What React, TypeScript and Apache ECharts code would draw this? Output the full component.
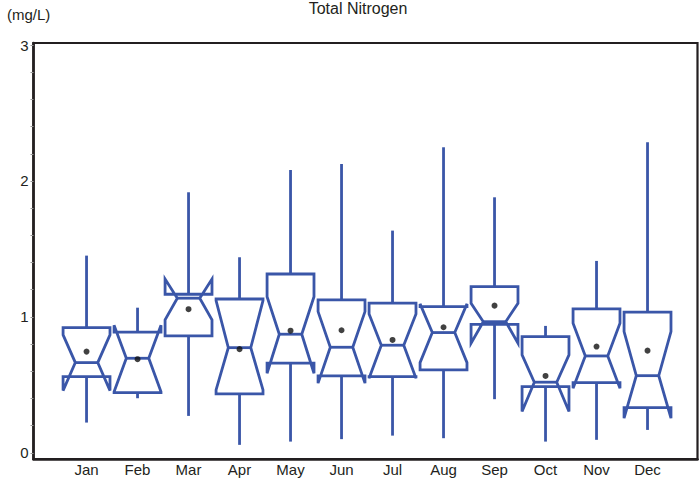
import React, { useEffect, useRef } from "react";
import * as echarts from "echarts";

const months = ["Jan", "Feb", "Mar", "Apr", "May", "Jun", "Jul", "Aug", "Sep", "Oct", "Nov", "Dec"];
const whiskerLow = [0.223, 0.402, 0.272, 0.059, 0.083, 0.101, 0.127, 0.108, 0.395, 0.083, 0.096, 0.169];
const q1 = [0.561, 0.443, 0.86, 0.434, 0.66, 0.566, 0.561, 0.61, 0.946, 0.488, 0.517, 0.333];
const notchLow = [0.458, 0.45, 0.978, 0.463, 0.586, 0.513, 0.549, 0.664, 0.807, 0.304, 0.476, 0.255];
const median = [0.664, 0.696, 1.138, 0.774, 0.873, 0.777, 0.792, 0.885, 0.965, 0.52, 0.713, 0.568];
const notchHigh = [0.868, 0.939, 1.279, 1.12, 1.149, 1.039, 1.022, 1.096, 1.101, 0.721, 0.954, 0.892];
const q3 = [0.921, 0.888, 1.167, 1.132, 1.316, 1.125, 1.101, 1.076, 1.223, 0.855, 1.059, 1.035];
const whiskerHigh = [1.451, 1.068, 1.917, 1.439, 2.081, 2.125, 1.635, 2.248, 1.88, 0.934, 1.412, 2.285];
const means = [0.745, 0.689, 1.057, 0.763, 0.899, 0.902, 0.831, 0.924, 1.083, 0.566, 0.782, 0.752];
const yTickLabels = [0, 1, 2, 3];
const yMinorTicks = [0, 0.2, 0.4, 0.6, 0.8, 1, 1.2, 1.4, 1.6, 1.8, 2, 2.2, 2.4, 2.6, 2.8, 3];

const BLUE = "#3a56a8";
const INK = "#231f20";
const FONT = "Liberation Sans, Arial, sans-serif";

export default function App() {
  const ref = useRef<HTMLDivElement>(null);
  useEffect(() => {
    const chart = echarts.init(ref.current!, null, { renderer: "svg" });
    const boxData = months.map((_, i) => [
      i + 1,
      whiskerLow[i],
      q1[i],
      notchLow[i],
      median[i],
      notchHigh[i],
      q3[i],
      whiskerHigh[i],
    ]);
    const meanData = means.map((v, i) => [i + 1, v]);

    const renderItem = (params: any, api: any) => {
      const x = api.value(0);
      const pt = (v: number) => api.coord([x, v]);
      const cx = pt(api.value(1))[0];
      const yMin = pt(api.value(1))[1];
      const yQ1 = pt(api.value(2))[1];
      const yNL = pt(api.value(3))[1];
      const yMed = pt(api.value(4))[1];
      const yNH = pt(api.value(5))[1];
      const yQ3 = pt(api.value(6))[1];
      const yMax = pt(api.value(7))[1];
      const hw = api.size([0.46, 0])[0];
      const nw = api.size([0.22, 0])[0];
      const style = { stroke: BLUE, lineWidth: 2.8, fill: "none", lineJoin: "miter" };
      return {
        type: "group",
        children: [
          {
            type: "line",
            shape: { x1: cx, y1: yQ3, x2: cx, y2: yMax },
            style: { stroke: BLUE, lineWidth: 2.8 },
          },
          {
            type: "line",
            shape: { x1: cx, y1: yQ1, x2: cx, y2: yMin },
            style: { stroke: BLUE, lineWidth: 2.8 },
          },
          {
            type: "polygon",
            shape: {
              points: [
                [cx - hw, yQ3],
                [cx - hw, yNH],
                [cx - nw, yMed],
                [cx - hw, yNL],
                [cx - hw, yQ1],
                [cx + hw, yQ1],
                [cx + hw, yNL],
                [cx + nw, yMed],
                [cx + hw, yNH],
                [cx + hw, yQ3],
              ],
            },
            style,
          },
          {
            type: "line",
            shape: { x1: cx - nw, y1: yMed, x2: cx + nw, y2: yMed },
            style: { stroke: BLUE, lineWidth: 2.8 },
          },
        ],
      };
    };

    chart.setOption({
      animation: false,
      backgroundColor: "#ffffff",
      textStyle: { fontFamily: FONT },
      title: {
        text: "Total Nitrogen",
        left: 358,
        top: 0,
        padding: 0,
        textAlign: "center",
        textStyle: { fontSize: 16, fontWeight: "normal", color: INK, fontFamily: FONT },
      },
      graphic: [
        {
          type: "text",
          left: 7,
          top: 7,
          style: { text: "(mg/L)", font: `15px ${FONT}`, fill: INK },
        },
      ],
      grid: {
        left: 33.5,
        top: 43,
        width: 664,
        height: 416,
        show: true,
        borderColor: INK,
        borderWidth: 2.2,
        backgroundColor: "transparent",
      },
      xAxis: {
        type: "value",
        min: -0.04,
        max: 12.98,
        splitLine: { show: false },
        axisLine: { show: true, onZero: false, lineStyle: { color: INK, width: 2.6 } },
        axisTick: { show: false },
        axisLabel: {
          customValues: months.map((_, i) => i + 1),
          formatter: (v: number) => months[Math.round(v) - 1] ?? "",
          color: INK,
          fontSize: 15,
          fontFamily: FONT,
          margin: 3,
        },
      },
      yAxis: {
        type: "value",
        min: -0.045,
        max: 3.015,
        splitLine: { show: false },
        axisLine: { show: true, onZero: false, lineStyle: { color: INK, width: 2.6 } },
        axisTick: {
          show: true,
          customValues: yMinorTicks,
          length: 3,
          lineStyle: { color: "#9a9a9a", width: 1 },
        },
        axisLabel: {
          customValues: yTickLabels,
          color: INK,
          fontSize: 15,
          fontFamily: FONT,
          margin: 5,
        },
      },
      series: [
        {
          type: "custom",
          renderItem,
          data: boxData,
          clip: false,
          encode: { x: 0, y: [1, 7] },
          z: 2,
        },
        {
          type: "scatter",
          data: meanData,
          symbol: "circle",
          symbolSize: 6,
          itemStyle: { color: "#111111" },
          z: 3,
        },
      ],
    });
    return () => chart.dispose();
  }, []);
  return <div ref={ref} style={{ position: "fixed", left: 0, top: 0, width: 699, height: 479 }} />;
}
